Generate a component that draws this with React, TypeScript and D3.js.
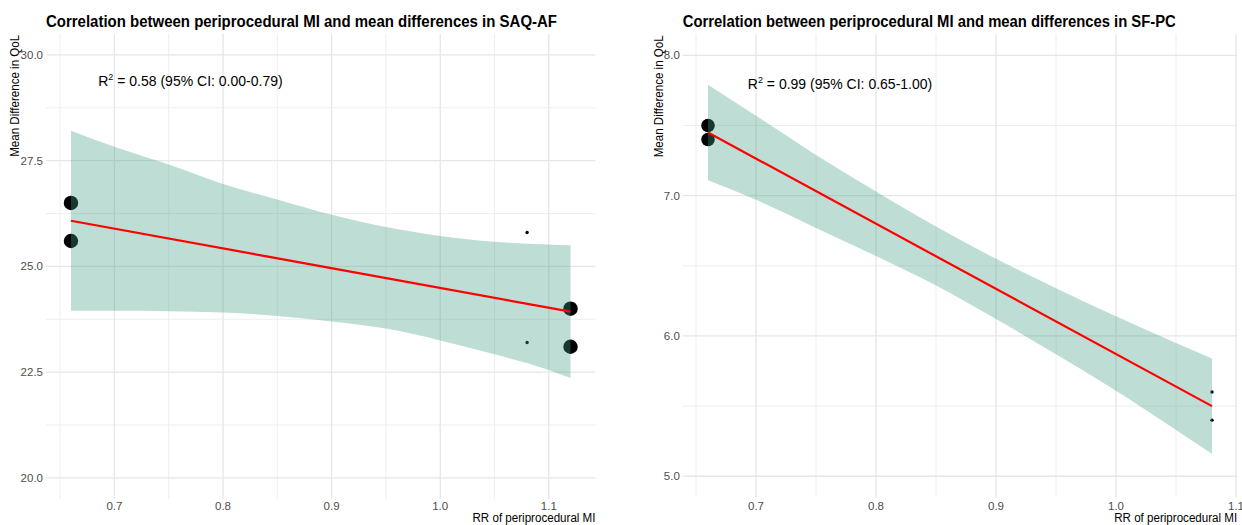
import React from "react";
import * as d3 from "d3";

// ---------- data: SAQ-AF ----------
const SAQ_BIG_X = [0.66, 0.66, 1.12, 1.12];
const SAQ_BIG_Y = [26.5, 25.6, 24.0, 23.1];
const SAQ_SMALL_X = [1.08, 1.08];
const SAQ_SMALL_Y = [25.8, 23.2];
const SAQ_FIT_X = [0.66, 1.12];
const SAQ_FIT_Y = [26.08, 23.93];
const SAQ_BAND_X = [0.66, 0.7, 0.75, 0.8, 0.85, 0.9, 0.95, 1.0, 1.05, 1.1, 1.12];
const SAQ_BAND_LO = [23.95, 23.95, 23.94, 23.91, 23.83, 23.7, 23.53, 23.25, 22.92, 22.55, 22.36];
const SAQ_BAND_HI = [28.21, 27.83, 27.41, 26.95, 26.58, 26.22, 25.93, 25.72, 25.58, 25.52, 25.5];
const SAQ_Y_TICKS = [20, 22.5, 25, 27.5, 30];
const SAQ_Y_MINOR = [21.25, 23.75, 26.25, 28.75];
const SAQ_TITLE = "Correlation between periprocedural MI and mean differences in SAQ-AF";
const SAQ_R2 = "0.58";
const SAQ_CI = "0.00-0.79";

// ---------- data: SF-PC ----------
const SF_BIG_X = [0.66, 0.66];
const SF_BIG_Y = [7.5, 7.4];
const SF_SMALL_X = [1.08, 1.08];
const SF_SMALL_Y = [5.6, 5.4];
const SF_FIT_X = [0.66, 1.08];
const SF_FIT_Y = [7.45, 5.5];
const SF_BAND_X = [0.66, 0.7, 0.75, 0.8, 0.85, 0.9, 0.95, 1.0, 1.05, 1.08];
const SF_BAND_LO = [7.11, 6.97, 6.77, 6.57, 6.36, 6.12, 5.87, 5.61, 5.33, 5.16];
const SF_BAND_HI = [7.79, 7.57, 7.29, 7.03, 6.78, 6.55, 6.34, 6.14, 5.95, 5.84];
const SF_Y_TICKS = [5, 6, 7, 8];
const SF_Y_MINOR = [5.5, 6.5, 7.5];
const SF_TITLE = "Correlation between periprocedural MI and mean differences in SF-PC";
const SF_R2 = "0.99";
const SF_CI = "0.65-1.00";

// ---------- shared ----------
const X_TICKS = [0.7, 0.8, 0.9, 1.0, 1.1];
const X_MINOR = [0.65, 0.75, 0.85, 0.95, 1.05];
const X_TITLE = "RR of periprocedural MI";
const Y_TITLE = "Mean Difference in QoL";

const FONT = "'Liberation Sans', Arial, sans-serif";

type PanelProps = {
  xDomain: [number, number];
  xRange: [number, number];
  yDomain: [number, number];
  yRange: [number, number];
  bigX: number[];
  bigY: number[];
  smallX: number[];
  smallY: number[];
  fitX: number[];
  fitY: number[];
  bandX: number[];
  bandLo: number[];
  bandHi: number[];
  yTicks: number[];
  yMinor: number[];
  title: string;
  titleLen: number;
  r2: string;
  ci: string;
  r2Y: number;
  yTitleX: number;
  bigR: number;
};

function Panel(p: PanelProps) {
  const x = d3.scaleLinear().domain(p.xDomain).range(p.xRange);
  const y = d3.scaleLinear().domain(p.yDomain).range(p.yRange);
  const [x0, x1] = p.xRange;
  const [yb, yt] = p.yRange;

  const band = d3
    .area<number>()
    .x((_, i) => x(p.bandX[i]))
    .y0((_, i) => y(p.bandLo[i]))
    .y1((_, i) => y(p.bandHi[i]))
    .curve(d3.curveMonotoneX)(p.bandX);

  const fit = d3
    .line<number>()
    .x((_, i) => x(p.fitX[i]))
    .y((_, i) => y(p.fitY[i]))(p.fitX);

  const fmt = d3.format(".1f");

  return (
    <g>
      {/* minor grid */}
      {p.yMinor.map((v) => (
        <line key={"ym" + v} x1={x0} x2={x1} y1={y(v)} y2={y(v)} stroke="#ececec" strokeWidth={0.9} />
      ))}
      {X_MINOR.map((v) => (
        <line key={"xm" + v} x1={x(v)} x2={x(v)} y1={yt} y2={yb} stroke="#ececec" strokeWidth={0.9} />
      ))}
      {/* major grid */}
      {p.yTicks.map((v) => (
        <line key={"yM" + v} x1={x0} x2={x1} y1={y(v)} y2={y(v)} stroke="#e6e6e6" strokeWidth={1.3} />
      ))}
      {X_TICKS.map((v) => (
        <line key={"xM" + v} x1={x(v)} x2={x(v)} y1={yt} y2={yb} stroke="#e6e6e6" strokeWidth={1.3} />
      ))}

      {/* points */}
      {p.bigX.map((v, i) => (
        <circle key={"b" + i} cx={x(v)} cy={y(p.bigY[i])} r={p.bigR} fill="#000" />
      ))}
      {p.smallX.map((v, i) => (
        <circle key={"s" + i} cx={x(v)} cy={y(p.smallY[i])} r={1.7} fill="#000" />
      ))}

      {/* confidence band */}
      <path d={band || ""} fill="rgb(69,160,136)" fillOpacity={0.35} />
      {/* fit line */}
      <path d={fit || ""} fill="none" stroke="#ff0000" strokeWidth={2.2} />

      {/* y tick labels */}
      {p.yTicks.map((v) => (
        <text
          key={"yl" + v}
          x={x0 - 3}
          y={y(v)}
          dy="0.35em"
          textAnchor="end"
          fontSize={11.5}
          fill="#4d4d4d"
          fontFamily={FONT}
        >
          {fmt(v)}
        </text>
      ))}
      {/* x tick labels */}
      {X_TICKS.map((v) => (
        <text
          key={"xl" + v}
          x={x(v)}
          y={510}
          textAnchor="middle"
          fontSize={11.5}
          fill="#4d4d4d"
          fontFamily={FONT}
        >
          {fmt(v)}
        </text>
      ))}

      {/* x axis title */}
      <text
        x={x1}
        y={521.5}
        textAnchor="end"
        fontSize={12.5}
        fill="#000"
        fontFamily={FONT}
        textLength={123}
        lengthAdjust="spacingAndGlyphs"
      >
        {X_TITLE}
      </text>

      {/* y axis title */}
      <text
        transform={`translate(${p.yTitleX},${yt + 1}) rotate(-90)`}
        textAnchor="end"
        fontSize={12}
        fill="#000"
        fontFamily={FONT}
        textLength={122}
        lengthAdjust="spacingAndGlyphs"
      >
        {Y_TITLE}
      </text>

      {/* title */}
      <text
        x={x0}
        y={27}
        fontSize={16}
        fontWeight="bold"
        fill="#000"
        fontFamily={FONT}
        textLength={p.titleLen}
        lengthAdjust="spacingAndGlyphs"
      >
        {p.title}
      </text>

      {/* R2 annotation */}
      <text x={x(0.77)} y={p.r2Y} textAnchor="middle" fontSize={14} fill="#000" fontFamily={FONT}>
        <tspan>R</tspan>
        <tspan dy={-6} fontSize={9}>
          2
        </tspan>
        <tspan dy={6}>{` = ${p.r2} (95% CI: ${p.ci})`}</tspan>
      </text>
    </g>
  );
}

export default function App() {
  return (
    <div style={{ position: "absolute", left: 0, top: 0 }}>
      <svg width={1242} height={525} style={{ display: "block", background: "#fff" }}>
        <rect x={0} y={0} width={1242} height={525} fill="#fff" />
        <Panel
          xDomain={[0.637, 1.143]}
          xRange={[46, 595.5]}
          yDomain={[19.5, 30.5]}
          yRange={[499, 33.8]}
          bigX={SAQ_BIG_X}
          bigY={SAQ_BIG_Y}
          smallX={SAQ_SMALL_X}
          smallY={SAQ_SMALL_Y}
          fitX={SAQ_FIT_X}
          fitY={SAQ_FIT_Y}
          bandX={SAQ_BAND_X}
          bandLo={SAQ_BAND_LO}
          bandHi={SAQ_BAND_HI}
          yTicks={SAQ_Y_TICKS}
          yMinor={SAQ_Y_MINOR}
          title={SAQ_TITLE}
          titleLen={511}
          r2={SAQ_R2}
          ci={SAQ_CI}
          r2Y={86}
          yTitleX={18.5}
          bigR={7.2}
        />
        <Panel
          xDomain={[0.639, 1.101]}
          xRange={[682.8, 1237.2]}
          yDomain={[4.85, 8.15]}
          yRange={[497.3, 34.3]}
          bigX={SF_BIG_X}
          bigY={SF_BIG_Y}
          smallX={SF_SMALL_X}
          smallY={SF_SMALL_Y}
          fitX={SF_FIT_X}
          fitY={SF_FIT_Y}
          bandX={SF_BAND_X}
          bandLo={SF_BAND_LO}
          bandHi={SF_BAND_HI}
          yTicks={SF_Y_TICKS}
          yMinor={SF_Y_MINOR}
          title={SF_TITLE}
          titleLen={493}
          r2={SF_R2}
          ci={SF_CI}
          r2Y={89.3}
          yTitleX={662.7}
          bigR={6.8}
        />
      </svg>
    </div>
  );
}
